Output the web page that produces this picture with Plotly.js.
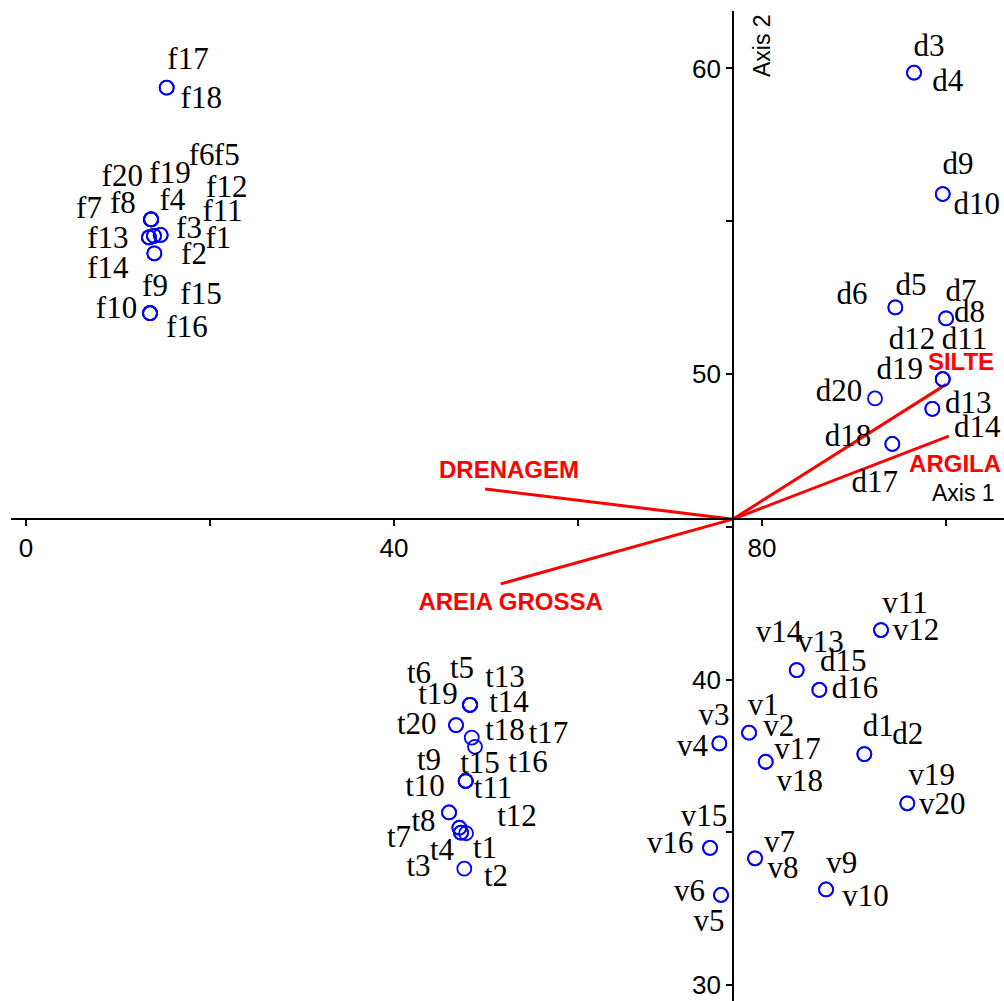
<!DOCTYPE html>
<html><head><meta charset="utf-8">
<script src="https://cdn.plot.ly/plotly-3.0.1.min.js"></script>
<style>html,body{margin:0;padding:0;background:#fff}#chart{width:1004px;height:1001px}</style>
</head><body><div id="chart"></div><script>
// ---- data ----
const sampleNames = ["f1","f2","f3","f4","f5","f6","f7","f8","f9","f10","f11","f12","f13","f14","f15","f16","f17","f18","f19","f20",
  "t1","t2","t3","t4","t5","t6","t7","t8","t9","t10","t11","t12","t13","t14","t15","t16","t17","t18","t19","t20",
  "d1","d2","d3","d4","d5","d6","d7","d8","d9","d10","d11","d12","d13","d14","d15","d16","d17","d18","d19","d20",
  "v1","v2","v3","v4","v5","v6","v7","v8","v9","v10","v11","v12","v13","v14","v15","v16","v17","v18","v19","v20"];
const sampleX = [14.64,13.95,14.64,13.59,13.59,13.59,13.37,13.37,13.48,13.48,13.91,13.91,13.37,13.95,13.48,13.48,15.29,15.29,13.59,13.59,
  47.83,47.64,47.10,47.10,48.26,48.26,45.98,45.98,47.79,47.79,47.28,47.28,48.26,48.26,47.79,47.79,48.80,48.45,46.74,46.74,
  91.12,91.12,96.52,96.52,94.49,94.49,100.0,100.0,99.64,99.64,99.64,99.64,98.51,98.51,86.23,86.23,94.16,94.16,99.64,92.28,
  78.59,78.59,75.36,75.36,75.54,75.54,79.24,79.24,86.96,86.96,92.93,92.93,83.77,83.77,74.35,74.35,80.40,80.40,95.79,95.79];
const sampleY = [54.55,53.95,54.55,55.06,55.06,55.06,54.47,54.47,51.99,51.99,54.52,54.52,54.47,53.95,51.99,51.99,59.37,59.37,55.06,55.06,
  34.97,33.81,35.15,35.15,39.17,39.17,35.65,35.65,36.68,36.68,34.99,34.99,39.17,39.17,36.68,36.68,37.80,38.10,38.51,38.51,
  37.56,37.56,59.86,59.86,52.18,52.18,51.82,51.82,55.89,55.89,49.83,49.83,48.86,48.86,39.66,39.66,47.71,47.71,49.83,49.20,
  38.26,38.26,37.91,37.91,32.95,32.95,34.15,34.15,33.13,33.13,41.62,41.62,40.31,40.31,34.49,34.49,37.31,37.31,35.95,35.95];
const labelX = [20.90,18.26,17.72,15.92,21.82,19.10,6.85,10.54,14.02,9.84,21.36,21.82,8.91,8.91,19.02,17.50,17.61,19.05,15.65,10.46,
  49.89,51.09,42.66,45.22,47.39,42.72,40.54,43.21,43.80,43.37,50.76,53.37,52.07,52.50,49.35,54.57,56.79,52.07,44.78,42.47,
  92.64,95.84,98.15,100.18,96.20,89.78,101.63,102.55,101.30,103.34,102.01,96.30,102.42,103.40,88.84,90.11,92.25,89.35,94.97,88.37,
  80.14,81.82,74.78,72.45,74.24,72.12,81.90,82.28,88.66,91.25,95.54,96.74,86.36,81.85,73.70,70.03,83.86,84.10,98.45,99.60];
const labelY = [54.39,53.84,54.71,55.63,57.10,57.10,55.37,55.53,52.82,52.09,55.25,56.06,54.37,53.40,52.53,51.46,60.22,58.97,56.51,56.42,
  34.42,33.50,33.83,34.36,40.31,40.15,34.78,35.30,37.28,36.45,36.38,35.47,40.02,39.20,37.20,37.23,38.18,38.29,39.44,38.46,
  38.41,38.13,60.67,59.53,52.85,52.55,52.65,51.96,56.79,55.50,51.06,51.06,48.99,48.20,40.54,39.66,46.40,47.91,50.08,49.38,
  39.11,38.41,38.77,37.76,32.04,33.02,34.62,33.76,33.93,32.85,42.44,41.56,41.16,41.49,35.47,34.58,37.64,36.62,36.81,35.84];

const originX = 76.85, originY = 45.25;
const vectorNames = ["DRENAGEM","AREIA GROSSA","SILTE","ARGILA"];
const vectorX = [49.9, 51.6, 100.0, 100.3];
const vectorY = [46.24, 43.13, 49.66, 47.97];
const vectorLabelX = [52.5, 52.68, 101.63, 100.98];
const vectorLabelY = [46.79, 42.48, 50.33, 46.99];

const xRange = [-1.63, 106.3];
const yRange = [29.48, 61.88];
const xTickVals = [0,20,40,60,80,100];
const xTickText = ["0","","40","","80",""];
const yTickVals = [30,35,40,45,50,55,60];
const yTickText = ["30","","40","","50","","60"];

// ---- traces ----
const vx = [], vy = [];
vectorX.forEach((x,i)=>{ vx.push(originX, x, null); vy.push(originY, vectorY[i], null); });

const traces = [
  {type:'scatter', mode:'lines', x:vx, y:vy, line:{color:'#ff0000', width:3}, hoverinfo:'skip', cliponaxis:false},
  {type:'scatter', mode:'markers', x:sampleX, y:sampleY,
   marker:{symbol:'circle-open', size:14, color:'#0000ff', line:{width:1.8, color:'#0000ff'}}, cliponaxis:false},
  {type:'scatter', mode:'text', x:labelX, y:labelY, text:sampleNames, textposition:'middle center',
   textfont:{family:'"Liberation Serif","Times New Roman",serif', size:31, color:'#000'}, cliponaxis:false},
  {type:'scatter', mode:'text', x:vectorLabelX, y:vectorLabelY, text:vectorNames, textposition:'middle center',
   textfont:{family:'"Liberation Sans",Arial,sans-serif', size:24, color:'#ff0000', weight:'bold'}, cliponaxis:false}
];

const tickFont = {family:'"Liberation Sans",Arial,sans-serif', size:26, color:'#000'};
const axisCommon = {showline:true, linecolor:'#000', linewidth:2, ticks:'outside', ticklen:6, tickwidth:2, tickcolor:'#000',
  tickmode:'array', showgrid:false, zeroline:false, anchor:'free', domain:[0,1], automargin:false};

const layout = {
  width:1004, height:1001, showlegend:false,
  margin:{l:11, r:0, t:11, b:0},
  paper_bgcolor:'#fff', plot_bgcolor:'#fff',
  xaxis: Object.assign({}, axisCommon, {range:xRange, tickvals:xTickVals, ticktext:xTickText, tickfont:tickFont,
    position:(originY - yRange[0])/(yRange[1]-yRange[0])}),
  yaxis: Object.assign({}, axisCommon, {range:yRange, tickvals:yTickVals, ticktext:yTickText, tickfont:tickFont,
    position:(originX - xRange[0])/(xRange[1]-xRange[0])}),
  annotations:[
    {text:'Axis 1', xref:'paper', yref:'paper', x:0.993, y:0.513, xanchor:'right', yanchor:'middle', showarrow:false,
     font:{family:'"Liberation Sans",Arial,sans-serif', size:23, color:'#000'}},
    {text:'Axis 2', xref:'paper', yref:'paper', x:0.7563, y:0.9646, xanchor:'center', yanchor:'middle', showarrow:false, textangle:-90,
     font:{family:'"Liberation Sans",Arial,sans-serif', size:23, color:'#000'}}
  ]
};
Plotly.newPlot('chart', traces, layout, {displayModeBar:false, staticPlot:true});
</script></body></html>
